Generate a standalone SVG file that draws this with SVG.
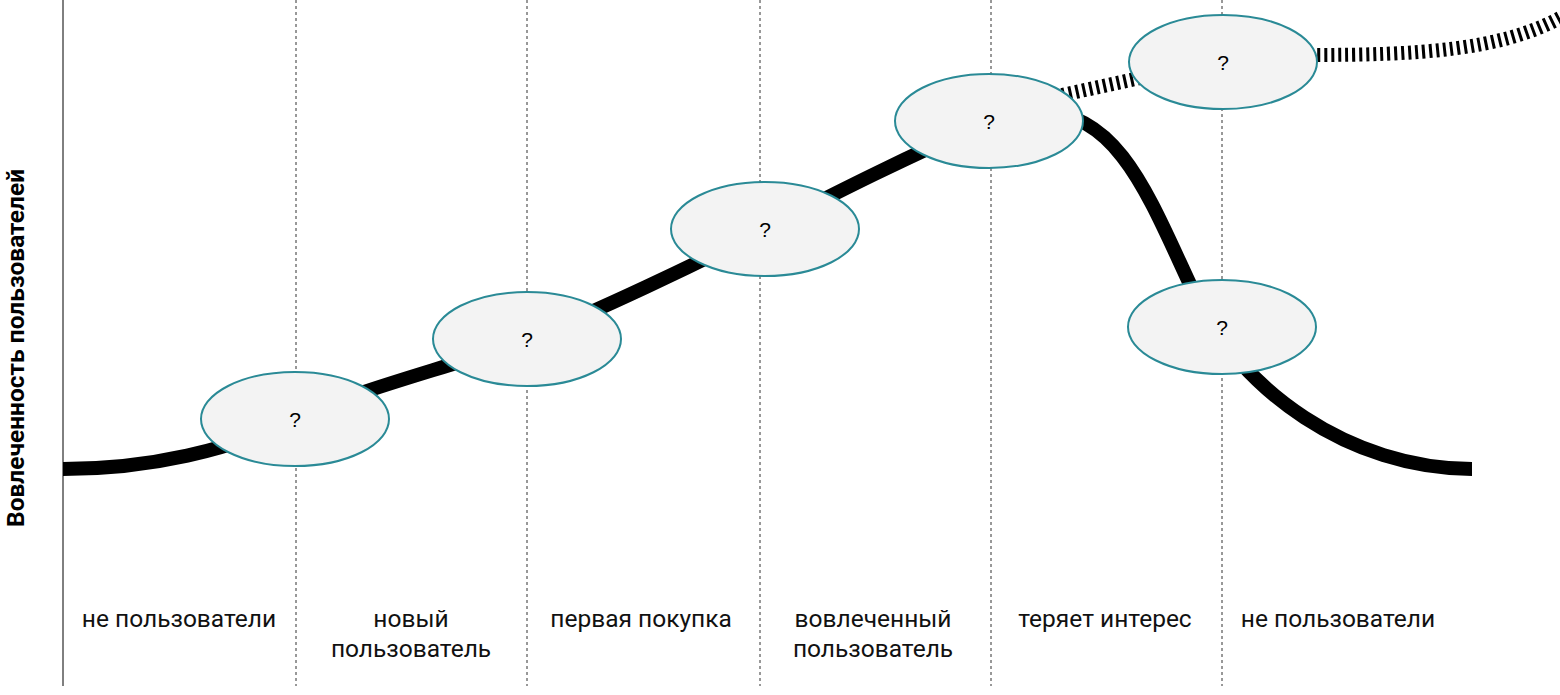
<svg xmlns="http://www.w3.org/2000/svg" width="1560" height="695" viewBox="0 0 1560 695">
<style>
.grid{stroke:#333;stroke-width:1;stroke-dasharray:3 3}
.curve{fill:none;stroke:#000;stroke-width:14}
.dash{fill:none;stroke:#000;stroke-width:14;stroke-dasharray:3 4}
.node ellipse{fill:#f3f3f3;stroke:#2a8a96;stroke-width:2}
.q{font-family:"Liberation Sans",Arial,sans-serif;font-size:21px;text-anchor:middle}
.lbl{font-family:Roboto,"Liberation Sans",sans-serif;font-size:24.5px;text-anchor:middle;fill:#111}
</style>
<rect width="1560" height="695" fill="#fff"/>
<line x1="63" y1="0" x2="63" y2="686" stroke="#000" stroke-width="1"/>
<g id="grid">
<line class="grid" x1="296" y1="0" x2="296" y2="686"/>
<line class="grid" x1="527" y1="0" x2="527" y2="686"/>
<line class="grid" x1="760" y1="0" x2="760" y2="686"/>
<line class="grid" x1="991" y1="0" x2="991" y2="686"/>
<line class="grid" x1="1222" y1="0" x2="1222" y2="686"/>
</g>
<g id="connectors">
<path class="curve" d="M63,469 C150,469 230,450 295,419 S460,365 527,339 S700,262 765,229 S900,160 989,121"/>
<path class="curve" d="M1040,112 C1120,112 1150,200 1195,295 S1350,469 1472,469"/>
<path class="dash" d="M1062,95 L1140,78"/>
<path class="dash" d="M1310,55 C1420,55 1500,50 1560,18"/>
</g>
<g id="n1" class="node"><ellipse cx="295" cy="419" rx="94" ry="47"/><text class="q" x="295" y="427">?</text></g>
<g id="n2" class="node"><ellipse cx="527" cy="339" rx="94" ry="47"/><text class="q" x="527" y="347">?</text></g>
<g id="n3" class="node"><ellipse cx="765" cy="229" rx="94" ry="47"/><text class="q" x="765" y="237">?</text></g>
<g id="n4" class="node"><ellipse cx="989" cy="121" rx="94" ry="47"/><text class="q" x="989" y="129">?</text></g>
<g id="n5" class="node"><ellipse cx="1223" cy="62" rx="94" ry="47"/><text class="q" x="1223" y="70">?</text></g>
<g id="n6" class="node"><ellipse cx="1222" cy="327" rx="94" ry="47"/><text class="q" x="1222" y="335">?</text></g>
<g id="labels">
<text class="lbl" x="179" y="627">не пользователи</text>
<text class="lbl" x="411" y="627">новый</text>
<text class="lbl" x="411" y="657">пользователь</text>
<text class="lbl" x="641" y="627">первая покупка</text>
<text class="lbl" x="873" y="627">вовлеченный</text>
<text class="lbl" x="873" y="657">пользователь</text>
<text class="lbl" x="1105" y="627">теряет интерес</text>
<text class="lbl" x="1338" y="627">не пользователи</text>
<text transform="translate(24,348) rotate(-90)" style="font-family:Roboto,'Liberation Sans',sans-serif;font-size:24.5px;font-weight:bold;text-anchor:middle">Вовлеченность пользователей</text>
</g>
</svg>
